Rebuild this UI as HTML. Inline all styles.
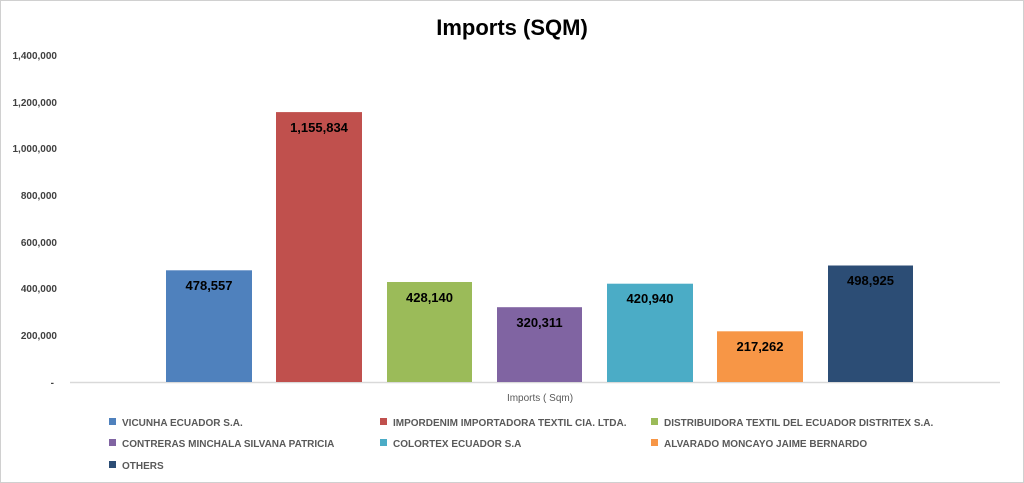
<!DOCTYPE html>
<html><head><meta charset="utf-8"><style>
body{margin:0;width:1024px;height:483px;background:#fff;overflow:hidden;font-family:"Liberation Sans",Arial,sans-serif}
.frame{position:absolute;left:0;top:0;width:1022px;height:481px;border:1px solid #d0d0d0}
.t{position:absolute;white-space:nowrap}
</style></head><body><div class="frame"></div>
<svg width="1024" height="483" style="position:absolute;left:0;top:0" font-family="Liberation Sans, Arial, sans-serif">
<text x="512" y="35" text-anchor="middle" font-size="22" font-weight="bold" fill="#000">Imports (SQM)</text>
<g font-size="10" font-weight="bold" fill="#404040" text-anchor="end">
<text x="57" y="59">1,400,000</text>
<text x="57" y="106">1,200,000</text>
<text x="57" y="152">1,000,000</text>
<text x="57" y="199">800,000</text>
<text x="57" y="246">600,000</text>
<text x="57" y="292">400,000</text>
<text x="57" y="339">200,000</text>
<text x="54" y="386">-</text>
</g>
<line x1="70" y1="382.5" x2="1000" y2="382.5" stroke="#d9d9d9" stroke-width="1.5"/>
<g>
<rect x="166" y="270.3" width="86" height="111.7" fill="#4f81bd"/>
<rect x="276" y="112.1" width="86" height="269.9" fill="#c0504d"/>
<rect x="387" y="282" width="85" height="100" fill="#9bbb59"/>
<rect x="497" y="307.2" width="85" height="74.8" fill="#8064a2"/>
<rect x="607" y="283.7" width="86" height="98.3" fill="#4bacc6"/>
<rect x="717" y="331.3" width="86" height="50.7" fill="#f79646"/>
<rect x="828" y="265.5" width="85" height="116.5" fill="#2c4d75"/>
</g>
<g font-size="13" font-weight="bold" fill="#000" text-anchor="middle">
<text x="209" y="290">478,557</text>
<text x="319" y="132">1,155,834</text>
<text x="429.5" y="302">428,140</text>
<text x="539.5" y="327">320,311</text>
<text x="650" y="303">420,940</text>
<text x="760" y="351">217,262</text>
<text x="870.5" y="285">498,925</text>
</g>
<text x="540" y="401" font-size="10" fill="#595959" text-anchor="middle">Imports ( Sqm)</text>
<g font-size="10" font-weight="bold" fill="#595959">
<rect x="109" y="418" width="7" height="7" fill="#4f81bd"/><text x="122" y="426">VICUNHA ECUADOR S.A.</text>
<rect x="380" y="418" width="7" height="7" fill="#c0504d"/><text x="393" y="426">IMPORDENIM IMPORTADORA TEXTIL CIA. LTDA.</text>
<rect x="651" y="418" width="7" height="7" fill="#9bbb59"/><text x="664" y="426">DISTRIBUIDORA TEXTIL DEL ECUADOR DISTRITEX S.A.</text>
<rect x="109" y="439" width="7" height="7" fill="#8064a2"/><text x="122" y="447">CONTRERAS MINCHALA SILVANA PATRICIA</text>
<rect x="380" y="439" width="7" height="7" fill="#4bacc6"/><text x="393" y="447">COLORTEX ECUADOR S.A</text>
<rect x="651" y="439" width="7" height="7" fill="#f79646"/><text x="664" y="447">ALVARADO MONCAYO JAIME BERNARDO</text>
<rect x="109" y="461" width="7" height="7" fill="#2c4d75"/><text x="122" y="469">OTHERS</text>
</g>
</svg>
</body></html>
